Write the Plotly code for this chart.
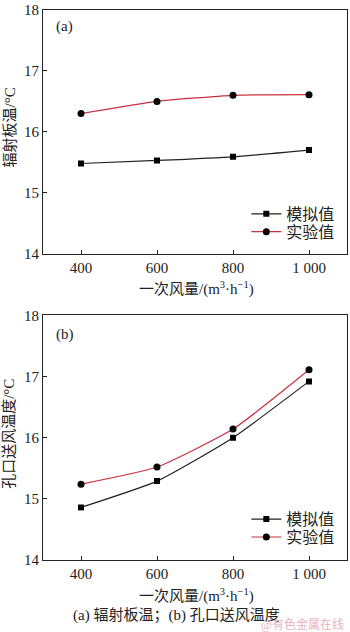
import plotly.graph_objects as go

# Data
air_volume = [400, 600, 800, 1000]
x_tick_labels = ["400", "600", "800", "1 000"]
y_ticks = [14, 15, 16, 17, 18]

panel_a_sim = [15.48, 15.53, 15.59, 15.70]
panel_a_exp = [16.30, 16.50, 16.60, 16.61]
panel_b_sim = [14.86, 15.29, 16.00, 16.92]
panel_b_exp = [15.24, 15.52, 16.14, 17.11]

series_names = ["模拟值", "实验值"]

FONT = "Liberation Serif, Noto Sans CJK SC, serif"
W, H = 350, 632
L, R, T, B = 43, 2, 7, 72
ph = H - T - B

def yfrac(py):
    return (H - B - py) / ph

def px_x(px):
    return (px - L) / (W - L - R)

fig = go.Figure()

def add_panel(sim, exp, xa, ya, leg_sim, leg_exp):
    fig.add_trace(go.Scatter(x=air_volume, y=sim, name=series_names[0], mode="lines+markers",
                             line=dict(color="#222222", width=1.2, shape="spline", smoothing=0.5),
                             marker=dict(symbol="square", size=6, color="#000000"),
                             xaxis=xa, yaxis=ya, legend=leg_sim))
    fig.add_trace(go.Scatter(x=air_volume, y=exp, name=series_names[1], mode="lines+markers",
                             line=dict(color="#c8323c", width=1.2, shape="spline", smoothing=0.5),
                             marker=dict(symbol="circle", size=7, color="#000000"),
                             xaxis=xa, yaxis=ya, legend=leg_exp))

add_panel(panel_a_sim, panel_a_exp, "x", "y", "legend", "legend2")
add_panel(panel_b_sim, panel_b_exp, "x2", "y2", "legend3", "legend4")

axis_common = dict(showline=True, linecolor="#222222", linewidth=1, mirror=True,
                   ticks="inside", ticklen=4, tickcolor="#222222", showgrid=False, zeroline=False,
                   tickfont=dict(family=FONT, size=15, color="#222222"))

def legend_at(py):
    return dict(x=px_x(247), y=yfrac(py), xanchor="left", yanchor="middle",
                bgcolor="rgba(0,0,0,0)", font=dict(family=FONT, size=16, color="#222222"),
                tracegroupgap=0, itemwidth=30)

fig.update_layout(
    width=W, height=H, margin=dict(l=L, r=R, t=T, b=B),
    paper_bgcolor="white", plot_bgcolor="white",
    font=dict(family=FONT, color="#222222"),
    xaxis=dict(domain=[0, 1], range=[300, 1100], tickvals=air_volume, ticktext=x_tick_labels,
               anchor="y", **axis_common),
    yaxis=dict(domain=[yfrac(252), 1], range=[14, 18], tickvals=y_ticks, anchor="x", **axis_common),
    xaxis2=dict(domain=[0, 1], range=[300, 1100], tickvals=air_volume, ticktext=x_tick_labels,
                anchor="y2", **axis_common),
    yaxis2=dict(domain=[0, yfrac(314)], range=[14, 18], tickvals=y_ticks, anchor="x2", **axis_common),
    legend=legend_at(212),
    legend2=legend_at(230),
    legend3=legend_at(519),
    legend4=legend_at(537),
    showlegend=True,
)

ann = []
ann.append(dict(text="(a)", x=px_x(54), y=yfrac(24), xref="paper", yref="paper", xanchor="left",
                yanchor="middle", showarrow=False, font=dict(family=FONT, size=15)))
ann.append(dict(text="(b)", x=px_x(54), y=yfrac(333), xref="paper", yref="paper", xanchor="left",
                yanchor="middle", showarrow=False, font=dict(family=FONT, size=15)))
ann.append(dict(text="一次风量/(m<sup>3</sup>·h<sup>−1</sup>)", x=px_x(197), y=yfrac(287), xref="paper",
                yref="paper", xanchor="center", yanchor="middle", showarrow=False,
                font=dict(family=FONT, size=15)))
ann.append(dict(text="一次风量/(m<sup>3</sup>·h<sup>−1</sup>)", x=px_x(197), y=yfrac(596), xref="paper",
                yref="paper", xanchor="center", yanchor="middle", showarrow=False,
                font=dict(family=FONT, size=15)))
ann.append(dict(text="辐射板温/°C", x=px_x(9), y=yfrac(125), xref="paper", yref="paper",
                xanchor="center", yanchor="middle", textangle=-90, showarrow=False,
                font=dict(family=FONT, size=15)))
ann.append(dict(text="孔口送风温度/°C", x=px_x(9), y=yfrac(433), xref="paper", yref="paper",
                xanchor="center", yanchor="middle", textangle=-90, showarrow=False,
                font=dict(family=FONT, size=15)))
ann.append(dict(text="(a) 辐射板温；(b) 孔口送风温度", x=px_x(177), y=yfrac(615), xref="paper",
                yref="paper", xanchor="center", yanchor="middle", showarrow=False,
                font=dict(family=FONT, size=15)))
ann.append(dict(text="@有色金属在线", x=px_x(347), y=yfrac(625), xref="paper", yref="paper",
                xanchor="right", yanchor="middle", showarrow=False,
                font=dict(family=FONT, size=12, color="#eab2c0")))
fig.update_layout(annotations=ann)

fig.write_html("out.html")
